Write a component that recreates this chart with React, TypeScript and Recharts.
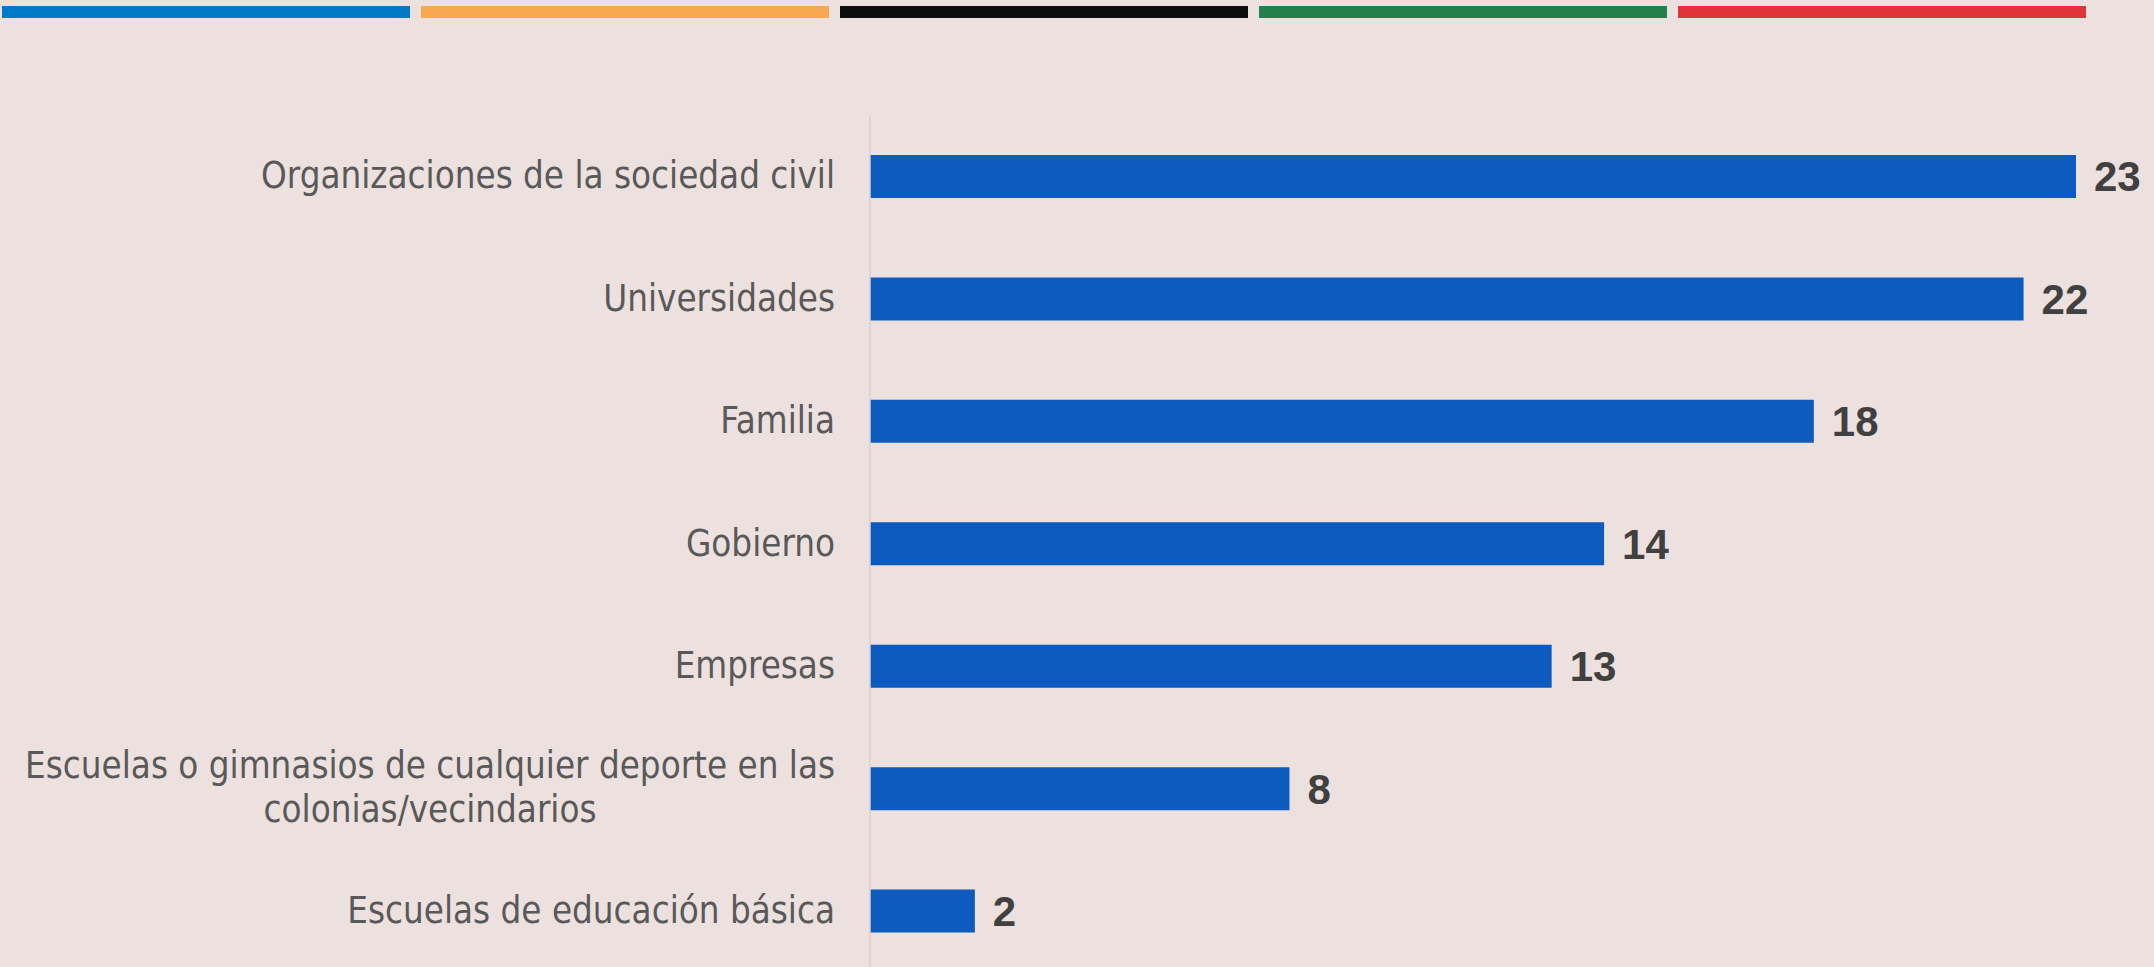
import { BarChart, Bar, XAxis, YAxis, LabelList } from "recharts";

const categories = [
  "Organizaciones de la sociedad civil",
  "Universidades",
  "Familia",
  "Gobierno",
  "Empresas",
  "Escuelas o gimnasios de cualquier deporte en las colonias/vecindarios",
  "Escuelas de educación básica",
];
const values = [23, 22, 18, 14, 13, 8, 2];
const stripeColors = ["#0079C6", "#F9A852", "#0D0D0D", "#21804E", "#E0343A"];

const data = categories.map((name, i) => ({ name, value: values[i] }));

const LABEL_FONT = "'DejaVu Sans Condensed', 'DejaVu Sans', sans-serif";
const LABEL_SIZE = 36.4;

let ctx: CanvasRenderingContext2D | null = null;
function measure(text: string) {
  if (!ctx) ctx = document.createElement("canvas").getContext("2d");
  if (!ctx) return text.length * LABEL_SIZE * 0.5;
  ctx.font = `${LABEL_SIZE}px ${LABEL_FONT}`;
  return ctx.measureText(text).width;
}

function wrap(text: string, maxWidth: number) {
  const words = text.split(" ");
  const lines: string[] = [];
  let cur = "";
  for (const w of words) {
    const next = cur ? cur + " " + w : w;
    if (cur && measure(next) > maxWidth) {
      lines.push(cur);
      cur = w;
    } else cur = next;
  }
  if (cur) lines.push(cur);
  return lines;
}

function CategoryTick(props: any) {
  const { x, y, payload } = props;
  const lines = wrap(payload.value, 840);
  if (lines.length === 1) {
    return (
      <text x={x} y={y} dy="0.33em" textAnchor="end" fill="#595959"
        fontFamily={LABEL_FONT} fontSize={LABEL_SIZE}>
        {payload.value}
      </text>
    );
  }
  const w = Math.max(...lines.map(measure));
  const cx = x - w / 2;
  const lh = 44;
  const top = y - ((lines.length - 1) * lh) / 2;
  return (
    <text textAnchor="middle" fill="#595959" fontFamily={LABEL_FONT} fontSize={LABEL_SIZE}>
      {lines.map((l, i) => (
        <tspan key={i} x={cx} y={top + i * lh} dy="0.33em">
          {l}
        </tspan>
      ))}
    </text>
  );
}

export default function App() {
  return (
    <div
      style={{
        position: "absolute",
        left: 0,
        top: 0,
        width: 2154,
        height: 967,
        overflow: "hidden",
        background: "#ECE1DE",
      }}
    >
      <div style={{ position: "absolute", top: 6, left: 2, display: "flex", gap: 11 }}>
        {stripeColors.map((c) => (
          <div key={c} style={{ width: 408, height: 12, background: c }} />
        ))}
      </div>
      <BarChart
        layout="vertical"
        width={2154}
        height={972}
        data={data}
        margin={{ top: 115, right: 78, bottom: 0, left: 0 }}
      >
        <XAxis type="number" domain={[0, 23]} hide />
        <YAxis
          type="category"
          dataKey="name"
          width={870}
          axisLine={{ stroke: "#D8D0CD", strokeWidth: 1.5 }}
          tickLine={false}
          tickSize={0}
          tickMargin={35}
          interval={0}
          tick={<CategoryTick />}
        />
        <Bar dataKey="value" fill="#0D5BBF" barSize={43} isAnimationActive={false}>
          <LabelList
            dataKey="value"
            position="right"
            offset={18}
            fill="#404040"
            fontFamily="'Liberation Sans', Arial, sans-serif"
            fontWeight="bold"
            fontSize={42}
          />
        </Bar>
      </BarChart>
    </div>
  );
}
